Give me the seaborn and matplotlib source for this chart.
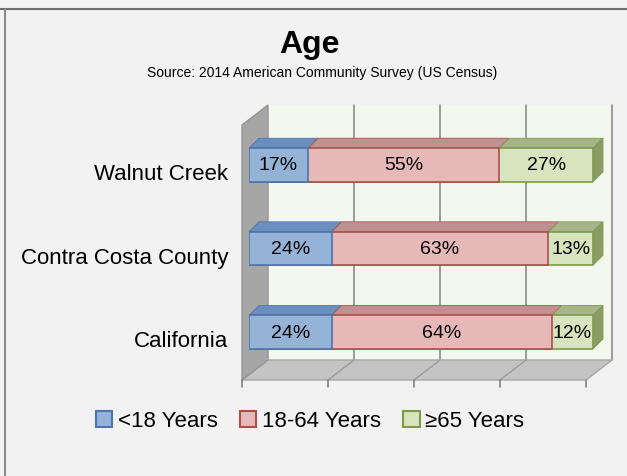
import numpy as np
import pandas as pd
import matplotlib
matplotlib.use("Agg")
import matplotlib.pyplot as plt
from matplotlib.patches import Polygon, Patch
from matplotlib.transforms import ScaledTranslation
import seaborn as sns

# data
areas = ["Walnut Creek", "Contra Costa County", "California"]
under_18 = [17, 24, 24]
age_18_64 = [55, 63, 64]
over_65 = [27, 13, 12]
legend_labels = ["<18 Years", "18-64 Years", "\u226565 Years"]

sns.set_style("white")
plt.rcParams['font.family'] = ['Liberation Sans', 'DejaVu Sans']
plt.rcParams['text.color'] = "black"
plt.rcParams['ytick.color'] = "black"

face = ["#95b3d7", "#e6b9b8", "#d7e4bd"]
edge = ["#4a76ad", "#a9504d", "#7d9a48"]
top = ["#6a8fbf", "#bf9190", "#a7b48a"]
endface = "#8c9c67"

df = pd.DataFrame({"area": areas, "u18": under_18, "mid": age_18_64, "o65": over_65})
total = df[["u18", "mid", "o65"]].sum(axis=1)
# 100% stacked: shares of each row
df["s1"] = df["u18"] / total * 100
df["s2"] = (df["u18"] + df["mid"]) / total * 100
df["s3"] = 100.0

W, H = 627, 477
fig = plt.figure(figsize=(W / 100, H / 100), dpi=100, facecolor="#f2f2f2")
ax_l, ax_r, ax_t, ax_b = 249, 593, 120, 375
ax = fig.add_axes([ax_l / W, 1 - ax_b / H, (ax_r - ax_l) / W, (ax_b - ax_t) / H])
ax.set_facecolor("none")

ymin, ymax = -0.55, 2.5
sx = 100 / (ax_r - ax_l)
sy = (ymax - ymin) / (ax_b - ax_t)


def off(p):
    return p[0] * sx, p[1] * sy


front = off((-7, 6))
back = off((19, -14))
depth = off((10, -10))

# stacked bars, widest first
bar_h = 0.4
for col, i in [("s3", 2), ("s2", 1), ("s1", 0)]:
    sns.barplot(data=df, x=col, y="area", color=face[i], edgecolor=edge[i],
                linewidth=1.2, width=bar_h, saturation=1, orient="h", ax=ax, zorder=5)

ax.set_xlim(0, 100)
ax.set_ylim(ymax, ymin)

# back wall
bw = Polygon([(0 + back[0], ymin + back[1]), (100 + back[0], ymin + back[1]),
              (100 + back[0], ymax + back[1]), (0 + back[0], ymax + back[1])],
             closed=True, facecolor="#f4f7ee", edgecolor="none", zorder=0, clip_on=False)
ax.add_patch(bw)
for gx in [25, 50, 75, 100]:
    ax.plot([gx + back[0]] * 2, [ymin + back[1], ymax + back[1]], color="#8c8c8c",
            lw=1.2, zorder=0.5, clip_on=False)

# floor
fl = Polygon([(0 + front[0], ymax + front[1]), (100 + front[0], ymax + front[1]),
              (100 + back[0], ymax + back[1]), (0 + back[0], ymax + back[1])],
             closed=True, facecolor="#c4c4c4", edgecolor="#a6a6a6", lw=1, zorder=1, clip_on=False)
ax.add_patch(fl)
for gx in [25, 50, 75]:
    ax.plot([gx + front[0], gx + back[0]], [ymax + front[1], ymax + back[1]],
            color="#9a9a9a", lw=1, zorder=1.5, clip_on=False)

# left wall
lw_ = Polygon([(0 + front[0], ymin + front[1]), (0 + front[0], ymax + front[1]),
               (0 + back[0], ymax + back[1]), (0 + back[0], ymin + back[1])],
              closed=True, facecolor="#a6a6a6", edgecolor="#959595", lw=1, zorder=2, clip_on=False)
ax.add_patch(lw_)

# tick marks under the floor
tick_len = 7 * sy
for gx in [0, 25, 50, 75, 100]:
    ax.plot([gx + front[0]] * 2, [ymax + front[1], ymax + front[1] + tick_len],
            color="#808080", lw=1.2, zorder=2, clip_on=False)

# 3d faces and labels of the bars
for r in range(len(areas)):
    lefts = [0, df["s1"][r], df["s2"][r]]
    rights = [df["s1"][r], df["s2"][r], df["s3"][r]]
    vals = [under_18[r], age_18_64[r], over_65[r]]
    yt, yb = r - bar_h / 2, r + bar_h / 2
    for i in range(3):
        l, rr = lefts[i], rights[i]
        ax.add_patch(Polygon([(l, yt), (rr, yt), (rr + depth[0], yt + depth[1]),
                              (l + depth[0], yt + depth[1])], closed=True,
                             facecolor=top[i], edgecolor=edge[i], lw=0.6,
                             zorder=4, clip_on=False))
        ax.text((l + rr) / 2, r, f"{vals[i]}%", ha="center", va="center",
                fontsize=14, color="black", zorder=7)
    rr = rights[2]
    ax.add_patch(Polygon([(rr, yt), (rr + depth[0], yt + depth[1]),
                          (rr + depth[0], yb + depth[1]), (rr, yb)], closed=True,
                         facecolor=endface, edgecolor=edge[2], lw=0.6,
                         zorder=4, clip_on=False))

for sp in ax.spines.values():
    sp.set_visible(False)
ax.set_xticks([])
ax.set_xlabel("")
ax.set_ylabel("")
ax.tick_params(axis="y", length=0, pad=15, labelsize=16, labelcolor="black")
# category names sit a little lower, on the front plane
shift = ScaledTranslation(0, -6 / 100, fig.dpi_scale_trans)
for lab in ax.get_yticklabels():
    lab.set_transform(lab.get_transform() + shift)

# titles
fig.text(309 / W, 1 - 45 / H, "Age", ha="center", va="center", fontsize=23,
         fontweight="bold", color="black")
fig.text(322 / W, 1 - 73 / H, "Source: 2014 American Community Survey (US Census)",
         ha="center", va="center", fontsize=10, color="black")

handles = [Patch(facecolor=face[i], edgecolor=edge[i], lw=1.5) for i in range(3)]
fig.legend(handles, legend_labels, loc="center", bbox_to_anchor=(310 / W, 1 - 422 / H),
           ncol=3, frameon=False, fontsize=16, handlelength=0.75, handleheight=0.75,
           handletextpad=0.25, columnspacing=1.0, labelcolor="black")

# frame lines of the picture
fig.add_artist(plt.Line2D([0, 1], [1 - 9.5 / H] * 2, color="#6e6e6e", lw=1.5))
fig.add_artist(plt.Line2D([4.5 / W] * 2, [0, 1 - 9.5 / H], color="#8a8a8a", lw=1.5))

fig.savefig("out.png", dpi=100, facecolor=fig.get_facecolor())
